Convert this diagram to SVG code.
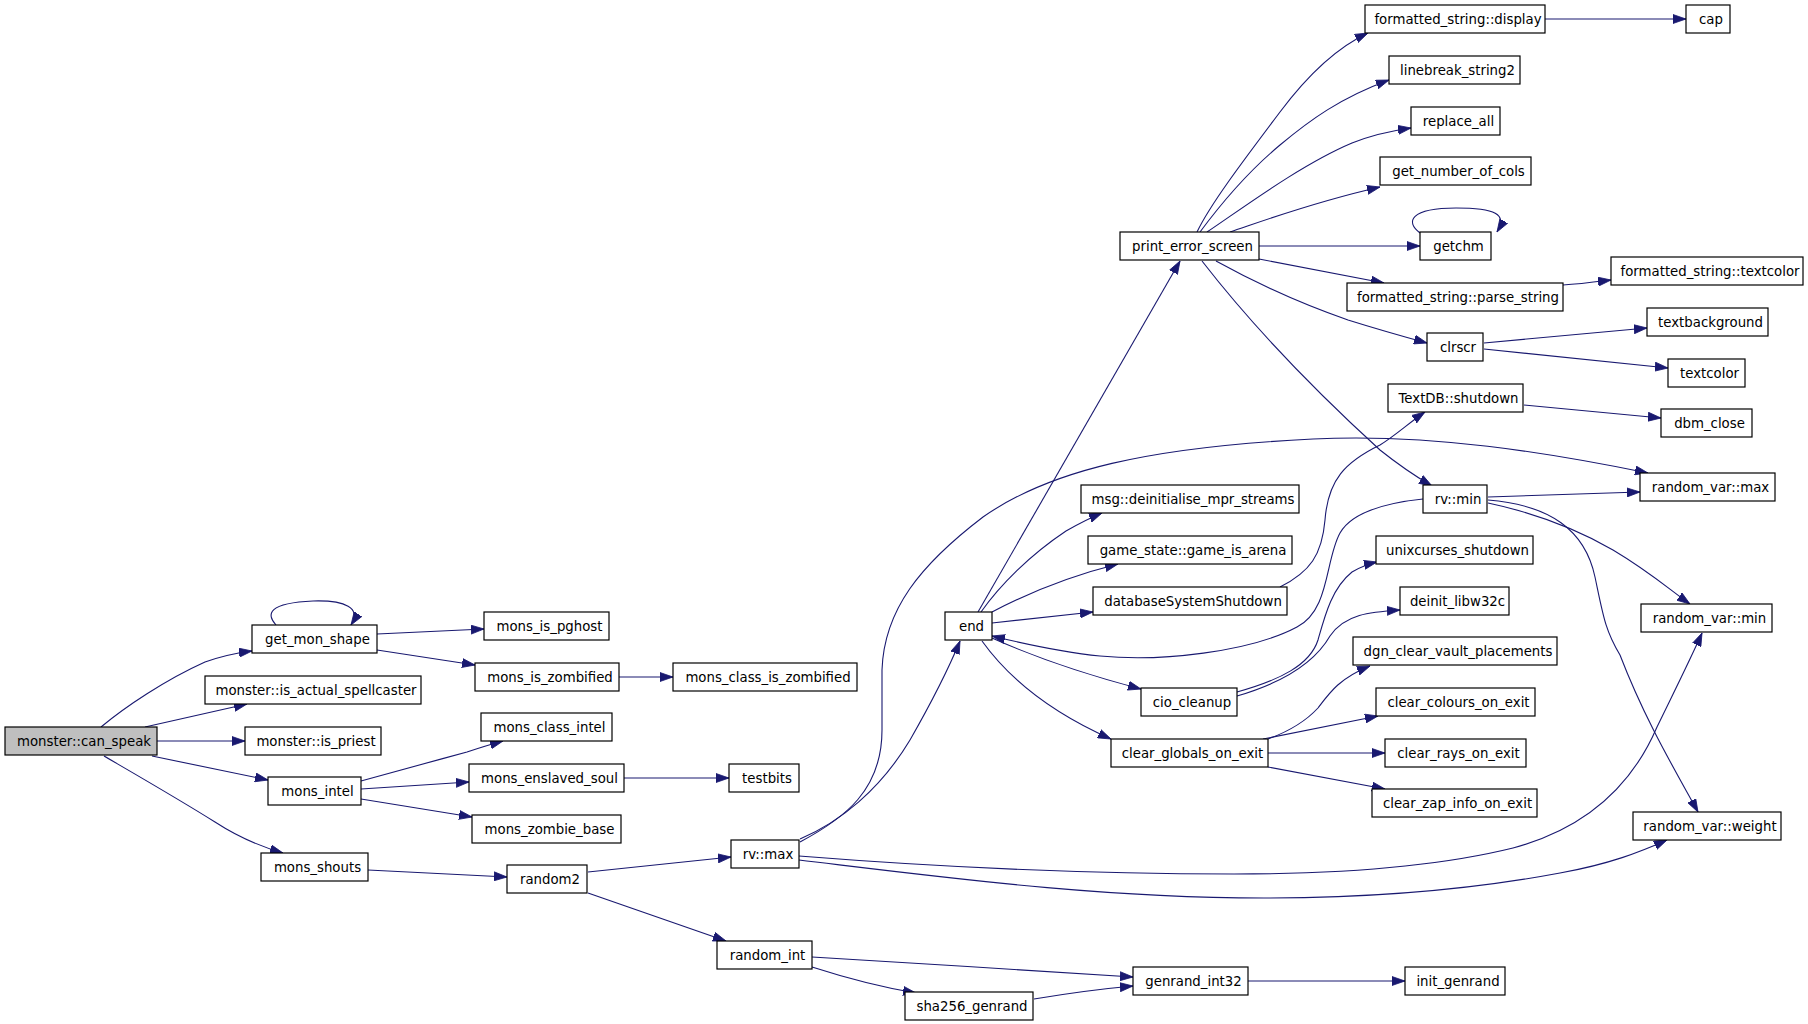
<svg xmlns="http://www.w3.org/2000/svg" width="1808" height="1024" viewBox="0 0 1808 1024">
<style>
.node rect{fill:#ffffff;stroke:#000000;stroke-width:1.2}
.node text{font-family:"DejaVu Sans","Liberation Sans",sans-serif;font-size:13.3px;fill:#000000;text-anchor:middle}
#root rect{fill:#bfbfbf}
.edges path{fill:none;stroke:#191970;stroke-width:1.1}
</style>
<defs>
<marker id="ah" markerUnits="userSpaceOnUse" markerWidth="13" markerHeight="10" refX="13" refY="5" orient="auto">
<path d="M0,0.5 L13,5 L0,9.5 z" fill="#191970" stroke="#191970" stroke-width="0.8"/>
</marker>
</defs>
<rect x="0" y="0" width="1808" height="1024" fill="#ffffff"/>
<g class="edges" marker-end="url(#ah)">
<path d="M101,727 C125,707 165,680 205,662 C222,656 236,653 252,651"/>
<path d="M145,727 L247,704"/>
<path d="M157,741 L245,741"/>
<path d="M152,756 L268,780"/>
<path d="M104,756 C140,777 180,800 215,822 C235,835 255,845 283,853"/>
<path d="M276,625 C266,614 268,603 313,601 C345,600 362,608 351,625"/>
<path d="M377,634 L484,629"/>
<path d="M377,650 L475,665"/>
<path d="M619,677 L673,677"/>
<path d="M361,781 C390,773 430,762 467,752 C482,747 492,744 503,741"/>
<path d="M361,789 L469,782"/>
<path d="M361,799 L472,817"/>
<path d="M624,778 L729,778"/>
<path d="M368,870 L507,877"/>
<path d="M588,872 L731,857"/>
<path d="M588,893 L726,941"/>
<path d="M812,957 C900,962 1050,972 1133,977"/>
<path d="M812,967 C840,976 880,987 916,993"/>
<path d="M1034,999 C1070,993 1100,989 1133,986"/>
<path d="M1248,981 L1405,981"/>
<path d="M800,839 C840,822 880,790 910,740 C930,705 948,670 960,641"/>
<path d="M800,842 C845,818 882,790 882,730 L882,670 C884,610 920,565 983,517 C1050,470 1150,447 1313,439 C1430,433 1550,453 1648,473"/>
<path d="M799,856 C950,868 1100,874 1234,874 C1350,874 1440,866 1513,848 C1580,830 1630,790 1657,727 C1675,690 1690,660 1702,633"/>
<path d="M799,860 C950,878 1100,898 1264,898 C1380,898 1480,888 1560,873 C1610,864 1640,852 1667,840"/>
<path d="M978,612 L1180,261"/>
<path d="M981,612 C1000,585 1030,555 1066,531 C1080,523 1090,518 1102,513"/>
<path d="M992,612 C1030,592 1070,576 1118,564"/>
<path d="M992,623 L1093,612"/>
<path d="M1423,499 C1385,503 1352,512 1340,533 C1325,560 1330,610 1297,627 C1250,652 1160,662 1100,656 C1060,652 1025,644 992,636"/>
<path d="M992,638 C1030,655 1080,673 1141,689"/>
<path d="M982,641 C1010,680 1050,712 1111,739"/>
<path d="M1197,232 C1210,205 1240,165 1280,112 C1310,72 1340,46 1368,33"/>
<path d="M1200,232 C1220,205 1250,170 1280,145 C1310,120 1340,98 1389,80"/>
<path d="M1207,232 C1240,210 1300,165 1352,143 C1372,135 1390,131 1411,128"/>
<path d="M1230,232 C1260,222 1310,203 1380,187"/>
<path d="M1259,246 L1420,246"/>
<path d="M1259,259 L1384,283"/>
<path d="M1216,261 C1245,277 1290,300 1348,320 C1380,330 1405,337 1427,343"/>
<path d="M1202,261 C1240,310 1300,377 1380,450 C1400,466 1415,476 1432,486"/>
<path d="M1545,19 L1686,19"/>
<path d="M1420,233 C1405,222 1410,208 1456,208 C1495,208 1508,214 1497,232"/>
<path d="M1563,285 C1580,284 1595,282 1611,280"/>
<path d="M1484,343 L1647,328"/>
<path d="M1484,349 L1668,368"/>
<path d="M1524,405 L1661,418"/>
<path d="M1280,587 C1310,572 1322,555 1325,520 C1328,480 1345,462 1380,445 C1395,436 1410,422 1425,412"/>
<path d="M1488,497 L1640,492"/>
<path d="M1488,503 C1530,512 1570,525 1613,550 C1650,572 1670,590 1690,604"/>
<path d="M1488,500 C1550,505 1585,530 1595,577 C1603,615 1605,630 1620,655 C1645,720 1675,770 1698,812"/>
<path d="M1237,692 C1280,680 1310,665 1318,640 C1325,615 1332,588 1352,572 C1362,566 1368,564 1377,562"/>
<path d="M1237,696 C1285,682 1315,662 1330,636 C1345,614 1370,612 1400,610"/>
<path d="M1268,739 C1290,731 1305,722 1318,708 C1330,692 1340,678 1370,666"/>
<path d="M1263,739 L1378,716"/>
<path d="M1268,753 L1385,753"/>
<path d="M1268,767 L1385,789"/>
</g>
<g id="root" class="node"><rect x="5" y="727" width="152" height="28"/><text x="84" y="745.5">monster::can_speak</text></g>
<g id="get_mon_shape" class="node"><rect x="252" y="625" width="125" height="28"/><text x="317.5" y="643.5">get_mon_shape</text></g>
<g id="is_actual_spellcaster" class="node"><rect x="205" y="676" width="216" height="28"/><text x="316" y="694.5">monster::is_actual_spellcaster</text></g>
<g id="is_priest" class="node"><rect x="245" y="727" width="136" height="28"/><text x="316" y="745.5">monster::is_priest</text></g>
<g id="mons_intel" class="node"><rect x="268" y="777" width="93" height="28"/><text x="317.5" y="795.5">mons_intel</text></g>
<g id="mons_shouts" class="node"><rect x="261" y="853" width="107" height="28"/><text x="317.5" y="871.5">mons_shouts</text></g>
<g id="mons_is_pghost" class="node"><rect x="484" y="612" width="125" height="28"/><text x="549.5" y="630.5">mons_is_pghost</text></g>
<g id="mons_is_zombified" class="node"><rect x="475" y="663" width="144" height="28"/><text x="550" y="681.5">mons_is_zombified</text></g>
<g id="mons_class_is_zombified" class="node"><rect x="673" y="663" width="184" height="28"/><text x="768" y="681.5">mons_class_is_zombified</text></g>
<g id="mons_class_intel" class="node"><rect x="481" y="713" width="131" height="28"/><text x="549.5" y="731.5">mons_class_intel</text></g>
<g id="mons_enslaved_soul" class="node"><rect x="469" y="764" width="155" height="28"/><text x="549.5" y="782.5">mons_enslaved_soul</text></g>
<g id="testbits" class="node"><rect x="729" y="764" width="70" height="28"/><text x="767" y="782.5">testbits</text></g>
<g id="mons_zombie_base" class="node"><rect x="472" y="815" width="149" height="28"/><text x="549.5" y="833.5">mons_zombie_base</text></g>
<g id="random2" class="node"><rect x="507" y="865" width="80" height="28"/><text x="550" y="883.5">random2</text></g>
<g id="rv_max" class="node"><rect x="731" y="840" width="68" height="28"/><text x="768" y="858.5">rv::max</text></g>
<g id="random_int" class="node"><rect x="717" y="941" width="95" height="28"/><text x="767.5" y="959.5">random_int</text></g>
<g id="sha256_genrand" class="node"><rect x="905" y="992" width="128" height="28"/><text x="972" y="1010.5">sha256_genrand</text></g>
<g id="genrand_int32" class="node"><rect x="1133" y="967" width="115" height="28"/><text x="1193.5" y="985.5">genrand_int32</text></g>
<g id="init_genrand" class="node"><rect x="1405" y="967" width="100" height="28"/><text x="1458" y="985.5">init_genrand</text></g>
<g id="end" class="node"><rect x="945" y="612" width="47" height="28"/><text x="971.5" y="630.5">end</text></g>
<g id="print_error_screen" class="node"><rect x="1120" y="232" width="139" height="28"/><text x="1192.5" y="250.5">print_error_screen</text></g>
<g id="msg_deinit" class="node"><rect x="1081" y="485" width="218" height="28"/><text x="1193" y="503.5">msg::deinitialise_mpr_streams</text></g>
<g id="game_is_arena" class="node"><rect x="1088" y="536" width="204" height="28"/><text x="1193" y="554.5">game_state::game_is_arena</text></g>
<g id="databaseSystemShutdown" class="node"><rect x="1093" y="587" width="194" height="28"/><text x="1193" y="605.5">databaseSystemShutdown</text></g>
<g id="cio_cleanup" class="node"><rect x="1141" y="688" width="96" height="28"/><text x="1192" y="706.5">cio_cleanup</text></g>
<g id="clear_globals_on_exit" class="node"><rect x="1111" y="739" width="157" height="28"/><text x="1192.5" y="757.5">clear_globals_on_exit</text></g>
<g id="fs_display" class="node"><rect x="1365" y="5" width="180" height="28"/><text x="1458" y="23.5">formatted_string::display</text></g>
<g id="cap" class="node"><rect x="1686" y="5" width="44" height="28"/><text x="1711" y="23.5">cap</text></g>
<g id="linebreak_string2" class="node"><rect x="1389" y="56" width="131" height="28"/><text x="1457.5" y="74.5">linebreak_string2</text></g>
<g id="replace_all" class="node"><rect x="1411" y="107" width="89" height="28"/><text x="1458.5" y="125.5">replace_all</text></g>
<g id="get_number_of_cols" class="node"><rect x="1380" y="157" width="151" height="28"/><text x="1458.5" y="175.5">get_number_of_cols</text></g>
<g id="getchm" class="node"><rect x="1420" y="232" width="71" height="28"/><text x="1458.5" y="250.5">getchm</text></g>
<g id="fs_parse_string" class="node"><rect x="1347" y="283" width="216" height="28"/><text x="1458" y="301.5">formatted_string::parse_string</text></g>
<g id="fs_textcolor" class="node"><rect x="1611" y="257" width="192" height="28"/><text x="1710" y="275.5">formatted_string::textcolor</text></g>
<g id="clrscr" class="node"><rect x="1427" y="333" width="56" height="28"/><text x="1458" y="351.5">clrscr</text></g>
<g id="textbackground" class="node"><rect x="1647" y="308" width="121" height="28"/><text x="1710.5" y="326.5">textbackground</text></g>
<g id="textcolor" class="node"><rect x="1668" y="359" width="77" height="28"/><text x="1709.5" y="377.5">textcolor</text></g>
<g id="textdb_shutdown" class="node"><rect x="1388" y="384" width="135" height="28"/><text x="1458.5" y="402.5">TextDB::shutdown</text></g>
<g id="dbm_close" class="node"><rect x="1661" y="409" width="91" height="28"/><text x="1709.5" y="427.5">dbm_close</text></g>
<g id="rv_min" class="node"><rect x="1423" y="485" width="64" height="28"/><text x="1458" y="503.5">rv::min</text></g>
<g id="random_var_max" class="node"><rect x="1640" y="473" width="135" height="28"/><text x="1710.5" y="491.5">random_var::max</text></g>
<g id="unixcurses_shutdown" class="node"><rect x="1376" y="536" width="157" height="28"/><text x="1457.5" y="554.5">unixcurses_shutdown</text></g>
<g id="deinit_libw32c" class="node"><rect x="1400" y="587" width="109" height="28"/><text x="1457.5" y="605.5">deinit_libw32c</text></g>
<g id="dgn_clear_vault_placements" class="node"><rect x="1353" y="637" width="204" height="28"/><text x="1458" y="655.5">dgn_clear_vault_placements</text></g>
<g id="clear_colours_on_exit" class="node"><rect x="1376" y="688" width="159" height="28"/><text x="1458.5" y="706.5">clear_colours_on_exit</text></g>
<g id="clear_rays_on_exit" class="node"><rect x="1385" y="739" width="141" height="28"/><text x="1458.5" y="757.5">clear_rays_on_exit</text></g>
<g id="clear_zap_info_on_exit" class="node"><rect x="1372" y="789" width="165" height="28"/><text x="1457.5" y="807.5">clear_zap_info_on_exit</text></g>
<g id="random_var_min" class="node"><rect x="1641" y="604" width="131" height="28"/><text x="1709.5" y="622.5">random_var::min</text></g>
<g id="random_var_weight" class="node"><rect x="1633" y="812" width="148" height="28"/><text x="1710" y="830.5">random_var::weight</text></g>
</svg>
